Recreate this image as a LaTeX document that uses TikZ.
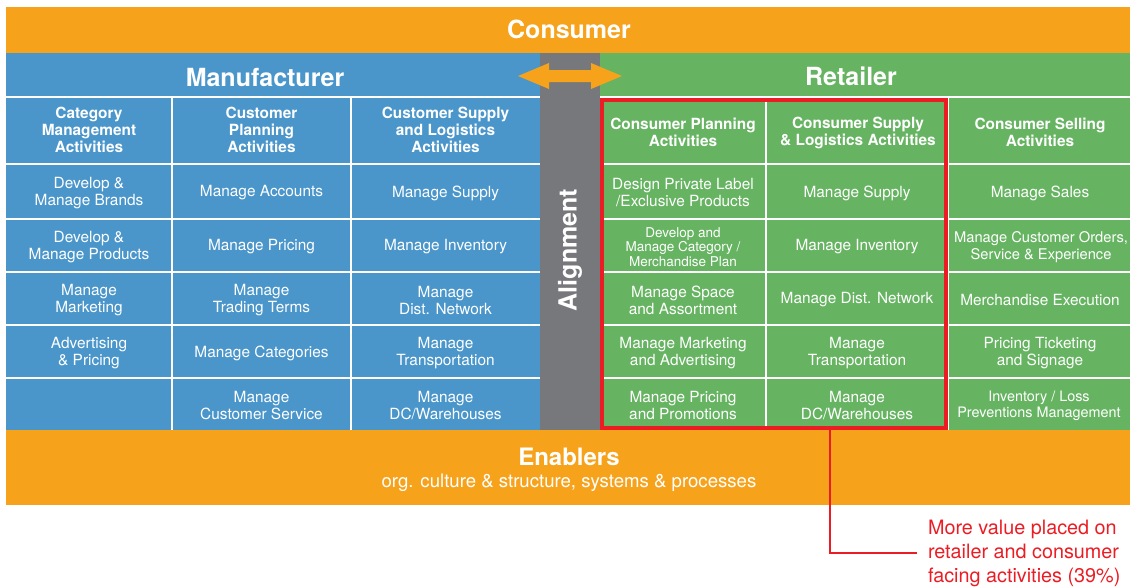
\documentclass[tikz,border=0pt]{standalone}
\usepackage{fontspec}
\setmainfont{TeX Gyre Heros}
\definecolor{bandorange}{HTML}{F7A21B}
\definecolor{makerblue}{HTML}{4A96CB}
\definecolor{shopgreen}{HTML}{66B462}
\definecolor{aligngray}{HTML}{77787C}
\definecolor{notered}{HTML}{EC1C24}
\tikzset{
  cell/.style={text=white, align=center, inner sep=0pt, yshift=-1.5pt, font=\fontsize{15.4}{17}\selectfont},
  smallcell/.style={cell, font=\fontsize{13.5}{14.5}\selectfont},
  headcell/.style={cell, font=\bfseries\fontsize{15.4}{17}\selectfont},
  bandtitle/.style={text=white, inner sep=0pt, font=\bfseries\fontsize{25}{30}\selectfont},
  divider/.style={white, line width=1.8pt},
  callout/.style={notered, line width=2pt},
}
\begin{document}
\begin{tikzpicture}[x=1pt,y=-1pt]
\useasboundingbox (0,0) rectangle (1130,587);
% bands
\fill [bandorange] (6,7) rectangle (1130,53);
\fill [makerblue] (6,53) rectangle (540,430);
\fill [aligngray] (540,53) rectangle (600,430);
\fill [shopgreen] (600,53) rectangle (1130,430);
\fill [bandorange] (6,430) rectangle (1130,505);
% grid lines
\draw [divider] (6,97) -- (540,97);
\draw [divider] (600,97) -- (1130,97);
\draw [divider] (6,164) -- (540,164);
\draw [divider] (600,164) -- (1130,164);
\draw [divider] (6,219) -- (540,219);
\draw [divider] (600,219) -- (1130,219);
\draw [divider] (6,272) -- (540,272);
\draw [divider] (600,272) -- (1130,272);
\draw [divider] (6,325) -- (540,325);
\draw [divider] (600,325) -- (1130,325);
\draw [divider] (6,378) -- (540,378);
\draw [divider] (600,378) -- (1130,378);
\draw [divider] (172,97) -- (172,430);
\draw [divider] (351,97) -- (351,430);
\draw [divider] (766,97) -- (766,430);
\draw [divider] (948,97) -- (948,430);
% titles
\node [bandtitle] (consumer) at (569,29) {Consumer};
\node [bandtitle] (maker) at (265,77) {Manufacturer};
\node [bandtitle] (shop) at (851,76) {Retailer};
\node [bandtitle, rotate=90, font=\bfseries\fontsize{25}{30}\selectfont] (align) at (570,250) {Alignment};
\fill [bandorange] (518,76) -- (549,63) -- (549,70) -- (591,70) -- (591,63) -- (622,76)
  -- (591,89) -- (591,82) -- (549,82) -- (549,89) -- cycle;
% manufacturer columns
\node [headcell] (cat) at (89,128.5) {Category\\Management\\Activities};
\node [cell] (cat1) at (89,191.5) {Develop \&\\Manage Brands};
\node [cell] (cat2) at (89,245.5) {Develop \&\\Manage Products};
\node [cell] (cat3) at (89,298.5) {Manage\\Marketing};
\node [cell] (cat4) at (89,351.5) {Advertising\\\& Pricing};
\node [headcell] (plan) at (261.5,128.5) {Customer\\Planning\\Activities};
\node [cell] (plan1) at (261.5,191.5) {Manage Accounts};
\node [cell] (plan2) at (261.5,245.5) {Manage Pricing};
\node [cell] (plan3) at (261.5,298.5) {Manage\\Trading Terms};
\node [cell] (plan4) at (261.5,351.5) {Manage Categories};
\node [cell] (plan5) at (261.5,404) {Manage\\Customer Service};
\node [headcell] (supply) at (445.5,128.5) {Customer Supply\\and Logistics\\Activities};
\node [cell] (supply1) at (445.5,191.5) {Manage Supply};
\node [cell] (supply2) at (445.5,245.5) {Manage Inventory};
\node [cell] (supply3) at (445.5,298.5) {Manage\\Dist. Network};
\node [cell] (supply4) at (445.5,351.5) {Manage\\Transportation};
\node [cell] (supply5) at (445.5,404) {Manage\\DC/Warehouses};
% retailer columns
\node [headcell] (cplan) at (683,131) {Consumer Planning\\Activities};
\node [cell] (cplan1) at (683,191.5) {Design Private Label\\/Exclusive Products};
\node [smallcell] (cplan2) at (683,245.5) {Develop and\\Manage Category /\\Merchandise Plan};
\node [cell] (cplan3) at (683,298.5) {Manage Space\\and Assortment};
\node [cell] (cplan4) at (683,351.5) {Manage Marketing\\and Advertising};
\node [cell] (cplan5) at (683,404) {Manage Pricing\\and Promotions};
\node [headcell] (csupply) at (858,131) {Consumer Supply\\\& Logistics Activities};
\node [cell] (csupply1) at (857,191.5) {Manage Supply};
\node [cell] (csupply2) at (857,245.5) {Manage Inventory};
\node [cell] (csupply3) at (857,298.5) {Manage Dist. Network};
\node [cell] (csupply4) at (857,351.5) {Manage\\Transportation};
\node [cell] (csupply5) at (857,404) {Manage\\DC/Warehouses};
\node [headcell] (csell) at (1040,131) {Consumer Selling\\Activities};
\node [cell] (csell1) at (1040,191.5) {Manage Sales};
\node [cell, font=\fontsize{14.7}{16.5}\selectfont] (csell2) at (1041,245.5) {Manage Customer Orders,\\Service \& Experience};
\node [cell] (csell3) at (1040,298.5) {Merchandise Execution};
\node [cell] (csell4) at (1040,351.5) {Pricing Ticketing\\and Signage};
\node [cell, font=\fontsize{14.4}{16}\selectfont] (csell5) at (1039,404) {Inventory / Loss\\Preventions Management};
% enablers
\node [bandtitle, font=\bfseries\fontsize{24}{30}\selectfont] (enable) at (569,457) {Enablers};
\node [cell, font=\fontsize{18.6}{22}\selectfont] (enablesub) at (569,481) {org. culture \& structure, systems \& processes};
% highlight and note
\node [draw=notered, line width=4pt, minimum width=344pt, minimum height=328pt, inner sep=0pt] (focus) at (774,263.5) {};
\node [text=notered, align=left, inner sep=0pt, outer xsep=11pt, anchor=west,
  font=\fontsize{19.8}{24}\selectfont] (note) at (917,553) {More value placed on\\retailer and consumer\\facing activities (39\%)};
\coordinate (tap) at (830,0);
\draw [callout] (focus.south -| tap) |- (note.west);
\end{tikzpicture}
\end{document}
